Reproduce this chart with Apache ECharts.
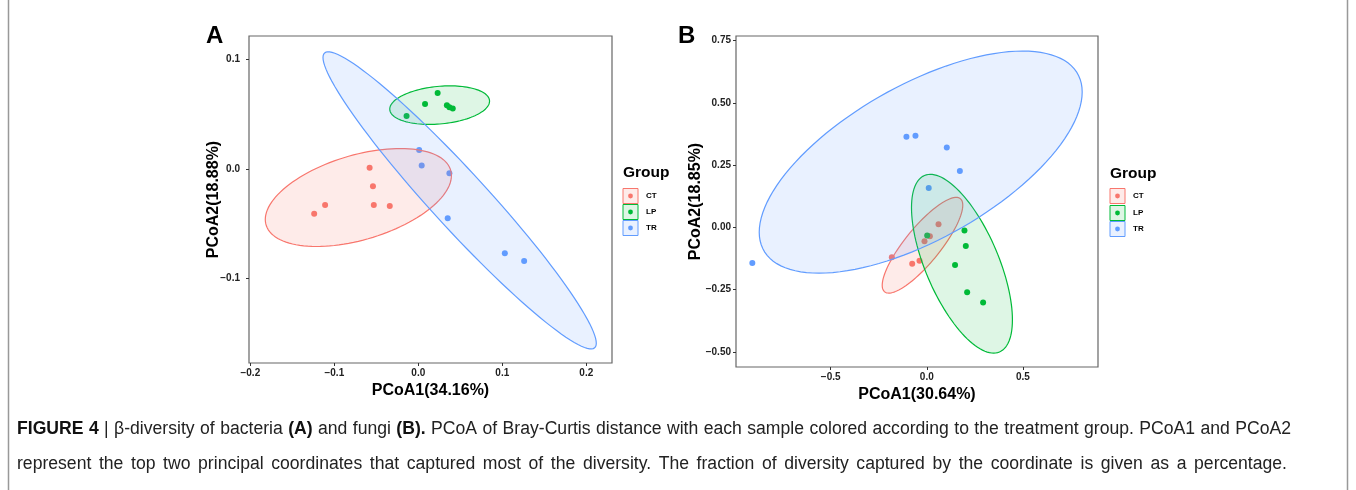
<!DOCTYPE html>
<html>
<head>
<meta charset="utf-8">
<script src="https://cdn.jsdelivr.net/npm/echarts@6/dist/echarts.min.js"></script>
<style>
  html, body { margin: 0; padding: 0; background: #fff; }
  #chart { width: 1356px; height: 490px; }
</style>
</head>
<body>
<div id="chart"></div>
<script>
// groups + ggplot default hues
const groups = ['CT', 'LP', 'TR'];
const colors = ['#F8766D', '#00BA38', '#619CFF'];
const fills = ['rgba(248,118,109,0.15)', 'rgba(0,186,56,0.13)', 'rgba(97,156,255,0.14)'];

// panel A (bacteria) sample coordinates [PCoA1, PCoA2]
const ctA = [[-0.124, -0.041], [-0.111, -0.033], [-0.058, 0.001], [-0.054, -0.016], [-0.053, -0.033], [-0.034, -0.034]];
const lpA = [[-0.014, 0.048], [0.008, 0.059], [0.023, 0.069], [0.034, 0.058], [0.037, 0.056], [0.041, 0.055]];
const trA = [[0.001, 0.017], [0.004, 0.003], [0.037, -0.004], [0.035, -0.045], [0.103, -0.077], [0.126, -0.084]];

// panel B (fungi)
const ctB = [[-0.182, -0.120], [-0.076, -0.146], [-0.038, -0.134], [-0.012, -0.055], [0.016, -0.035], [0.061, 0.013]];
const lpB = [[0.002, -0.032], [0.196, -0.012], [0.203, -0.075], [0.147, -0.151], [0.210, -0.260], [0.293, -0.301]];
const trB = [[-0.908, -0.143], [-0.106, 0.364], [-0.059, 0.368], [0.104, 0.321], [0.172, 0.226], [0.010, 0.158]];

// 95% ellipses: [cx, cy, ux, uy, vx, vy] (centre + two conjugate semi-diameters)
const ellA = [[-0.0714, -0.0262, 0.1108, 0.0200, 0, 0.0399],
              [0.0254, 0.0580, 0.0594, 0.0036, 0, 0.0172],
              [0.0492, -0.0288, 0.1627, -0.1302, 0, 0.0373]];
const ellB = [[-0.0224, -0.0715, 0.2096, 0.1606, 0, 0.1052],
              [0.1830, -0.1457, 0.2626, -0.2248, 0, 0.2794],
              [-0.0317, 0.262, 0.8404, 0.2810, 0, 0.3457]];

// ticks
const xTicksA = [-0.2, -0.1, 0, 0.1, 0.2];
const yTicksA = [-0.1, 0, 0.1];
const xTicksB = [-0.5, 0, 0.5];
const yTicksB = [-0.5, -0.25, 0, 0.25, 0.5, 0.75];

// caption, [text, bold] pieces
const caption1 = [['FIGURE 4', true], [' | \u03b2-diversity of bacteria ', false], ['(A)', true], [' and fungi ', false], ['(B).', true],
  [' PCoA of Bray-Curtis distance with each sample colored according to the treatment group. PCoA1 and PCoA2', false]];
const caption2 = [['represent the top two principal coordinates that captured most of the diversity. The fraction of diversity captured by the coordinate is given as a percentage.', false]];

const fmt1 = v => v.toFixed(1).replace('-', '\u2212');
const fmt2 = v => v.toFixed(2).replace('-', '\u2212');

const chart = echarts.init(document.getElementById('chart'));

function renderEllipse(gi) {
  return function (params, api) {
    const cx = api.value(0), cy = api.value(1);
    const ux = api.value(2), uy = api.value(3), vx = api.value(4), vy = api.value(5);
    const pts = [];
    for (let i = 0; i <= 120; i++) {
      const t = i / 120 * Math.PI * 2;
      pts.push(api.coord([cx + ux * Math.cos(t) + vx * Math.sin(t), cy + uy * Math.cos(t) + vy * Math.sin(t)]));
    }
    return {
      type: 'polygon',
      shape: { points: pts },
      style: { fill: fills[gi], stroke: colors[gi], lineWidth: 1.2 }
    };
  };
}

function makeAxis(grid, ticks, fmt, range, name, margin, gap) {
  return {
    gridIndex: grid,
    type: 'value',
    min: range[0],
    max: range[1],
    name: name,
    nameLocation: 'middle',
    nameGap: gap,
    nameMoveOverlap: false,
    nameTextStyle: { fontFamily: 'Liberation Sans', fontWeight: 'bold', fontSize: 16, color: '#000' },
    splitLine: { show: false },
    axisLine: { show: false, onZero: false },
    axisTick: { show: true, length: 3, customValues: ticks, lineStyle: { color: '#333', width: 1 } },
    axisLabel: {
      customValues: ticks, formatter: fmt, margin: margin,
      fontFamily: 'Liberation Sans', fontWeight: 'bold', fontSize: 10, color: '#222'
    }
  };
}

const pts = [[ctA, lpA, trA], [ctB, lpB, trB]];
const ells = [ellA, ellB];
const series = [];
for (let p = 0; p < 2; p++) {
  for (let g = 0; g < 3; g++) {
    series.push({
      type: 'scatter', name: groups[g], xAxisIndex: p, yAxisIndex: p,
      data: pts[p][g], symbolSize: 6, z: 2,
      itemStyle: { color: colors[g], opacity: 1 }
    });
  }
  for (let g = 0; g < 3; g++) {
    series.push({
      type: 'custom', name: groups[g] + ' ellipse', xAxisIndex: p, yAxisIndex: p,
      data: [ells[p][g]], encode: { x: 0, y: 1 }, z: 3 + g,
      renderItem: renderEllipse(g), silent: true
    });
  }
}

// ggplot-style legend keys, built from the groups list
function legendGraphic(x0, titleY, keyYs, labelX) {
  const out = [{
    type: 'text', left: x0, top: titleY - 9,
    style: { text: 'Group', fontFamily: 'Liberation Sans', fontWeight: 'bold', fontSize: 15.5, fill: '#000' }
  }];
  groups.forEach((g, i) => {
    out.push({
      type: 'rect', shape: { x: x0, y: keyYs[i] - 7.5, width: 15, height: 15 },
      style: { fill: fills[i], stroke: colors[i], lineWidth: 1 }
    });
    out.push({
      type: 'circle', shape: { cx: x0 + 7.5, cy: keyYs[i], r: 2.4 },
      style: { fill: colors[i] }
    });
    out.push({
      type: 'text', x: labelX, y: keyYs[i],
      style: { text: g, fontFamily: 'Liberation Sans', fontWeight: 'bold', fontSize: 8, fill: '#000', verticalAlign: 'middle' }
    });
  });
  return out;
}

// justified caption line: spread words between x0 and x1
const measureCtx = document.createElement('canvas').getContext('2d');
function justifyLine(segs, y, x0, x1, size) {
  const words = [];
  segs.forEach(([t, b]) => t.split(' ').filter(w => w.length).forEach(w => words.push([w, b])));
  const widths = words.map(([w, b]) => {
    measureCtx.font = (b ? 'bold ' : '') + size + 'px "Liberation Sans"';
    return measureCtx.measureText(w).width;
  });
  const total = widths.reduce((a, c) => a + c, 0);
  const gap = (x1 - x0 - total) / (words.length - 1);
  let x = x0;
  return words.map(([w, b], i) => {
    const el = {
      type: 'text', x: x, y: y,
      style: { text: w, fontFamily: 'Liberation Sans', fontWeight: b ? 'bold' : 'normal', fontSize: size, fill: b ? '#111' : '#222', verticalAlign: 'middle' }
    };
    x += widths[i] + gap;
    return el;
  });
}

const option = {
  animation: false,
  backgroundColor: '#fff',
  grid: [
    { left: 249, top: 36, width: 363, height: 327, show: true, borderColor: '#666', borderWidth: 1.2, backgroundColor: 'transparent' },
    { left: 736, top: 36, width: 362, height: 331, show: true, borderColor: '#666', borderWidth: 1.2, backgroundColor: 'transparent' }
  ],
  xAxis: [
    makeAxis(0, xTicksA, fmt1, [-0.2016, 0.2306], 'PCoA1(34.16%)', 5, 20),
    makeAxis(1, xTicksB, fmt1, [-0.993, 0.891], 'PCoA1(30.64%)', 5, 20)
  ],
  yAxis: [
    makeAxis(0, yTicksA, fmt1, [-0.177, 0.121], 'PCoA2(18.88%)', 9, 27),
    makeAxis(1, yTicksB, fmt2, [-0.560, 0.768], 'PCoA2(18.85%)', 5, 32)
  ],
  series: series,
  graphic: [
    { type: 'line', shape: { x1: 8.5, y1: 0, x2: 8.5, y2: 490 }, style: { stroke: '#999', lineWidth: 1.5 } },
    { type: 'line', shape: { x1: 1347.5, y1: 0, x2: 1347.5, y2: 490 }, style: { stroke: '#999', lineWidth: 1.5 } },
    { type: 'text', left: 206, top: 24, style: { text: 'A', fontFamily: 'Liberation Sans', fontWeight: 'bold', fontSize: 24, fill: '#000' } },
    { type: 'text', left: 678, top: 24, style: { text: 'B', fontFamily: 'Liberation Sans', fontWeight: 'bold', fontSize: 24, fill: '#000' } },
    ...legendGraphic(623, 174, [196, 212, 228], 646),
    ...legendGraphic(1110, 175, [196, 213, 229], 1133),
    ...justifyLine(caption1, 429, 17, 1291, 17.6),
    ...justifyLine(caption2, 464, 17, 1287, 17.6)
  ]
};

chart.setOption(option);
</script>
</body>
</html>
